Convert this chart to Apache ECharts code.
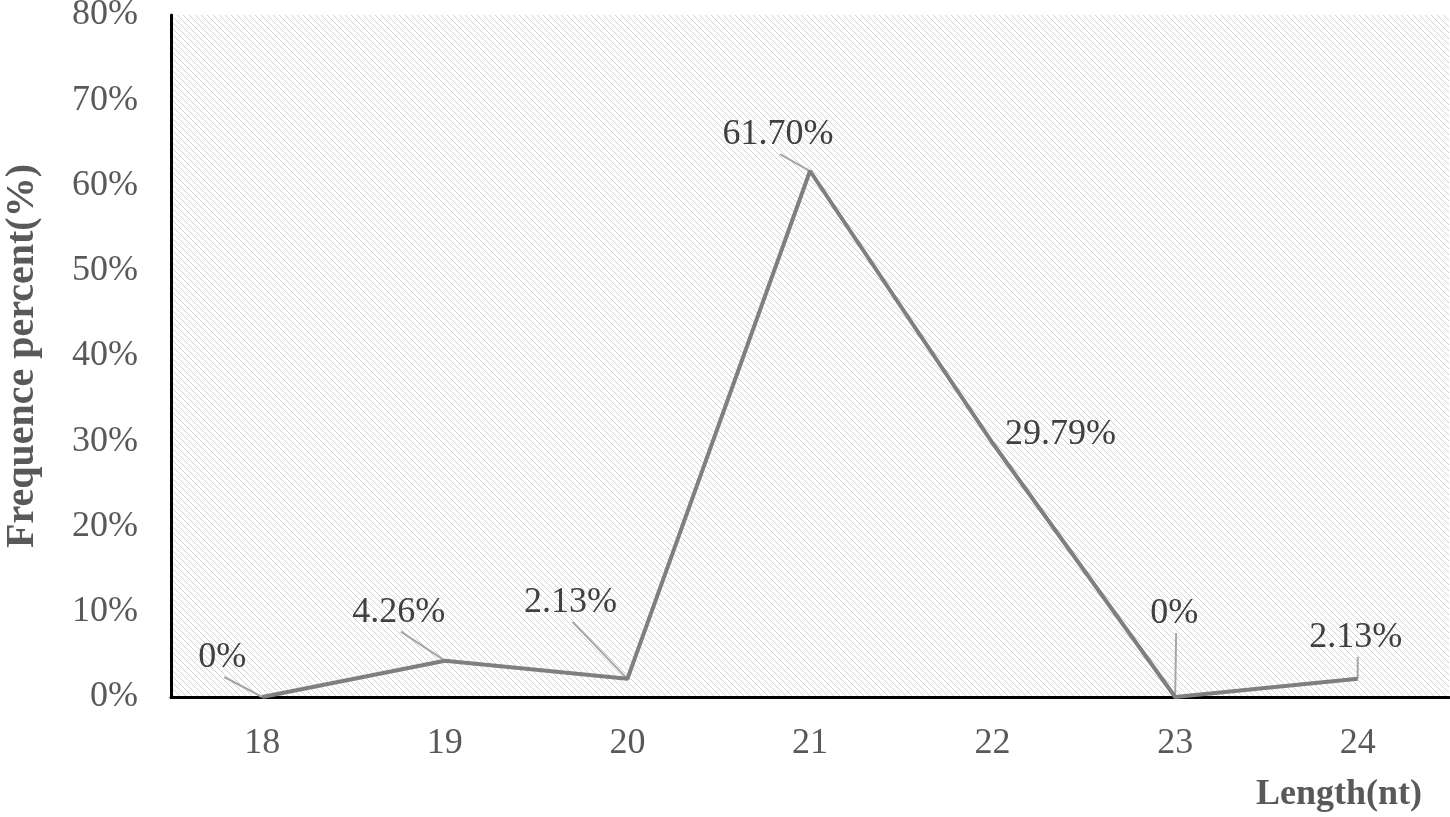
<!DOCTYPE html>
<html><head><meta charset="utf-8">
<script src="https://cdn.jsdelivr.net/npm/echarts@6/dist/echarts.min.js"></script>
<style>html,body{margin:0;padding:0;background:#fff}#c{width:1450px;height:817px}</style>
</head><body><div id="c"></div>
<script>
const categories = ['18','19','20','21','22','23','24'];
const values = [0, 4.26, 2.13, 61.70, 29.79, 0, 2.13];
const labelTexts = ['0%','4.26%','2.13%','61.70%','29.79%','0%','2.13%'];
const yTicks = [0,10,20,30,40,50,60,70,80];
// label offsets (styling, relative to default 'top' position)
const labelOffsets = [[-40,-15],[-46,-24],[-57,-52],[-32,-12],[68,16],[-1,-59],[-2,-17]];
const hasLeader = [true, true, true, true, false, true, true];

const pc = document.createElement('canvas');
pc.width = 6; pc.height = 6;
const g = pc.getContext('2d');
g.fillStyle = '#ffffff'; g.fillRect(0,0,6,6);
g.strokeStyle = '#d2d2d2'; g.lineWidth = 1;
g.beginPath(); g.moveTo(-1,-1); g.lineTo(7,7); g.moveTo(-1,5); g.lineTo(1,7); g.moveTo(5,-1); g.lineTo(7,1); g.stroke();

const font = 'Liberation Serif';
const chart = echarts.init(document.getElementById('c'));
chart.setOption({
  animation: false,
  grid: {left: 171, right: 1, top: 15, bottom: 120, show: true, borderWidth: 0,
         outerBoundsMode: 'none', containLabel: false,
         backgroundColor: {image: pc, repeat: 'repeat'}},
  xAxis: {
    type: 'category', data: categories, boundaryGap: true,
    axisLine: {lineStyle: {color: '#000', width: 3}},
    axisTick: {show: false},
    axisLabel: {fontFamily: font, fontSize: 36, color: '#595959', margin: 29},
    name: 'Length(nt)', nameLocation: 'end', nameGap: -27,
    nameTextStyle: {fontFamily: font, fontSize: 36, fontWeight: 'bold', color: '#595959',
                    align: 'right', verticalAlign: 'top', padding: [80,0,0,0]}
  },
  yAxis: {
    type: 'value', min: 0, max: 80, interval: 10,
    axisLine: {show: true, lineStyle: {color: '#000', width: 3}},
    axisTick: {show: false}, splitLine: {show: false},
    axisLabel: {fontFamily: font, fontSize: 36, color: '#595959', margin: 33,
                formatter: v => v + '%'},
    name: 'Frequence percent(%)', nameLocation: 'middle', nameGap: 128,
    nameTextStyle: {fontFamily: font, fontSize: 40, fontWeight: 'bold', color: '#595959'}
  },
  series: [{
    type: 'custom',
    z: 1,
    data: values.map((v, i) => [i, v]),
    renderItem: (params, api) => {
      const i = params.dataIndex;
      if (!hasLeader[i]) return null;
      const p = api.coord([api.value(0), api.value(1)]);
      const [dx, dy] = labelOffsets[i];
      return {type: 'line', shape: {x1: p[0] + dx + 2, y1: p[1] + dy - 5, x2: p[0], y2: p[1]},
              style: {stroke: '#a6a6a6', lineWidth: 2}};
    }
  }, {
    type: 'line',
    z: 2,
    data: values,
    showSymbol: true, symbol: 'circle', symbolSize: 1,
    itemStyle: {color: 'rgba(0,0,0,0)', borderWidth: 0},
    lineStyle: {color: '#7f7f7f', width: 4},
    label: {show: true, position: 'top', distance: 0, fontFamily: font, fontSize: 36,
            color: '#404040', padding: [6,6,6,6],
            formatter: p => labelTexts[p.dataIndex]},
    labelLayout: p => ({dx: labelOffsets[p.dataIndex][0], dy: labelOffsets[p.dataIndex][1]})
  }]
});
</script></body></html>
